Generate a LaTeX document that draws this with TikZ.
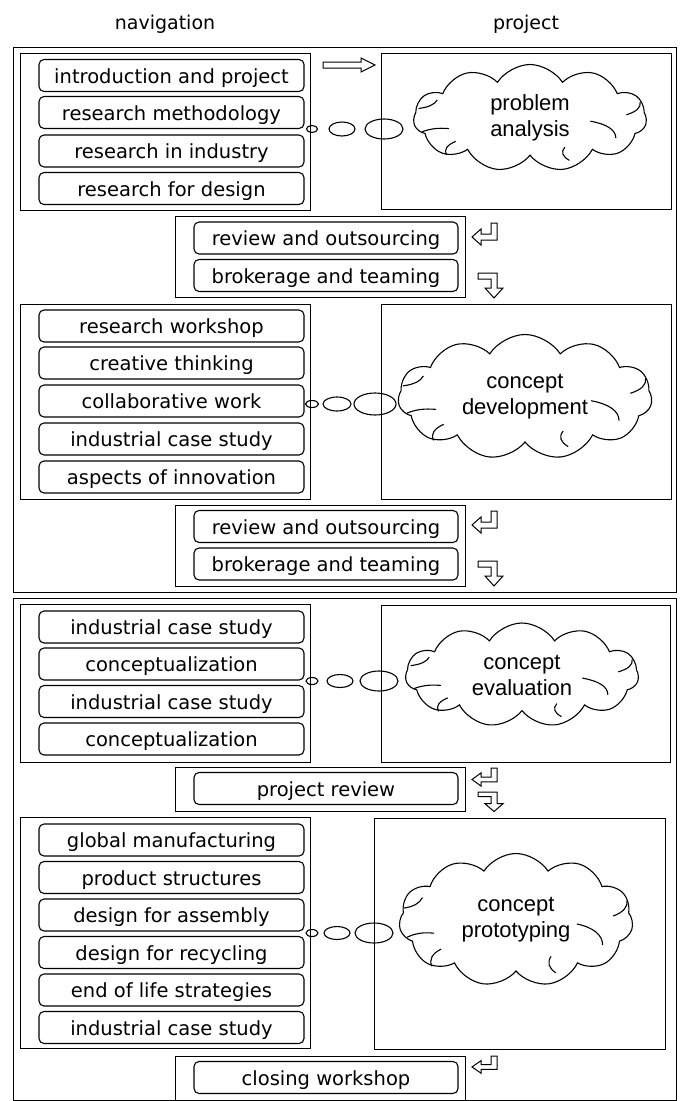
\documentclass[tikz,border=0pt]{standalone}
\usepackage{fontspec}
\setmainfont{DejaVu Sans}
\newfontfamily\cloudfont{Liberation Sans}
\usetikzlibrary{shapes.symbols,shapes.geometric}
\newcommand\cloudcurls[3]{%
  \begin{scope}[shift={(#1.center)},xscale=#2,yscale=#3,line width=1.1pt]
    \draw (-0.96,-0.18) to[bend right=30] (-0.80,-0.34);
    \draw (-0.93,0.26) to[bend left=25] (-0.70,0.20);
    \draw (-0.72,0.70) to[bend left=30] (-0.64,0.44);
    \draw (0.34,0.80) to[bend left=30] (0.30,0.55);
    \draw (0.52,0.06) to[bend left=35] (0.74,0.38);
    \draw (0.95,-0.30) to[bend left=30] (0.83,-0.06);
  \end{scope}}
\begin{document}
\begin{tikzpicture}[x=1pt,y=-1pt,
  frame/.style={draw,line width=1.4pt,anchor=north west,inner sep=0pt},
  panel/.style={draw,line width=1.2pt,anchor=north west,inner sep=0pt},
  item/.style={draw,line width=1.1pt,rounded corners=5pt,minimum width=265pt,minimum height=32pt,inner sep=0pt,text height=15pt,text depth=0pt,font=\fontsize{19.5}{23}\selectfont},
  ritem/.style={item,minimum width=264pt},
  bub/.style={draw,ellipse,line width=1.1pt,inner sep=0pt},
  thought/.style={draw,cloud,cloud puffs=11,cloud puff arc=115,line width=1.1pt,inner sep=0pt,align=center,font=\cloudfont\fontsize{22}{26}\selectfont},
  head/.style={font=\fontsize{19}{23}\selectfont},
  blockarrow/.style={draw,fill=white,line width=1pt,line join=miter},
  retarrow/.pic={\draw[blockarrow] (19,0)--(25,0)--(25,17)--(9,17)--(9,22)--(0,14)--(9,6)--(9,11)--(19,11)--cycle;},
  downarrow/.pic={\draw[blockarrow] (0,0)--(19,0)--(19,15)--(25,15)--(16,25)--(7,15)--(13,15)--(13,6)--(0,6)--cycle;}
]
\useasboundingbox (0,0) rectangle (681,1101);

% headers
\node[head] (hnav) at (165,24) {navigation};
\node[head] (hproj) at (526,24) {project};

% outer frames
\node[frame,minimum width=663pt,minimum height=545pt] (frame1) at (13,47) {};
\node[frame,minimum width=663pt,minimum height=502pt] (frame2) at (13,598) {};

% ---------- section 1
\node[panel,minimum width=290pt,minimum height=157pt] (nav1) at (20,53) {};
\node[panel,minimum width=290pt,minimum height=156pt] (proj1) at (381,53) {};
\node[item] (a1) at (171.5,75.5) {introduction and project};
\node[item] (a2) at (171.5,112.5) {research methodology};
\node[item] (a3) at (171.5,151) {research in industry};
\node[item] (a4) at (171.5,188.5) {research for design};
\node[bub,minimum width=11pt,minimum height=7pt] (b11) at (312,129) {};
\node[bub,minimum width=26pt,minimum height=14pt] (b12) at (342,129) {};
\node[bub,minimum width=38pt,minimum height=20pt] (b13) at (384,129) {};
\node[thought,aspect=2.18,minimum width=233pt,minimum height=107pt] (c1) at (530,118) {problem\\analysis};
\cloudcurls{c1}{116}{53}
\draw[blockarrow] (323,62)--(361,62)--(361,58)--(375,65)--(361,72)--(361,68)--(323,68)--cycle;

\node[panel,minimum width=290pt,minimum height=81pt] (rev1) at (175,216) {};
\node[ritem] (r11) at (326,238) {review and outsourcing};
\node[ritem] (r12) at (326,275.5) {brokerage and teaming};
\pic at (472,223) {retarrow};
\pic at (478,273) {downarrow};

% ---------- section 2
\node[panel,minimum width=290pt,minimum height=195pt] (nav2) at (20,304) {};
\node[panel,minimum width=290pt,minimum height=195pt] (proj2) at (381,304) {};
\node[item] (d1) at (171.5,326) {research workshop};
\node[item] (d2) at (171.5,363) {creative thinking};
\node[item] (d3) at (171.5,401) {collaborative work};
\node[item] (d4) at (171.5,439) {industrial case study};
\node[item] (d5) at (171.5,477) {aspects of innovation};
\node[bub,minimum width=13pt,minimum height=7pt] (b21) at (312,404) {};
\node[bub,minimum width=28pt,minimum height=14pt] (b22) at (337,404) {};
\node[bub,minimum width=42pt,minimum height=22pt] (b23) at (375,404) {};
\node[thought,aspect=2.03,minimum width=254pt,minimum height=125pt] (c2) at (525,397) {concept\\development};
\cloudcurls{c2}{127}{62}

\node[panel,minimum width=290pt,minimum height=81pt] (rev2) at (175,505) {};
\node[ritem] (r21) at (326,526.5) {review and outsourcing};
\node[ritem] (r22) at (326,564) {brokerage and teaming};
\pic at (472,511) {retarrow};
\pic at (478,561) {downarrow};

% ---------- section 3
\node[panel,minimum width=290pt,minimum height=158pt] (nav3) at (20,604) {};
\node[panel,minimum width=289pt,minimum height=157pt] (proj3) at (381,605) {};
\node[item] (e1) at (171.5,627) {industrial case study};
\node[item] (e2) at (171.5,664) {conceptualization};
\node[item] (e3) at (171.5,701.5) {industrial case study};
\node[item] (e4) at (171.5,739) {conceptualization};
\node[bub,minimum width=12pt,minimum height=7pt] (b31) at (312,681) {};
\node[bub,minimum width=26pt,minimum height=13pt] (b32) at (340,681) {};
\node[bub,minimum width=38pt,minimum height=20pt] (b33) at (379,681) {};
\node[thought,aspect=2.24,minimum width=233pt,minimum height=104pt] (c3) at (522,675) {concept\\evaluation};
\cloudcurls{c3}{116}{52}

\node[panel,minimum width=290pt,minimum height=44pt] (rev3) at (175,767) {};
\node[ritem] (r31) at (326,788.5) {project review};
\pic[yscale=0.82] at (472,768) {retarrow};
\pic[yscale=0.78] at (478,792) {downarrow};

% ---------- section 4
\node[panel,minimum width=290pt,minimum height=231pt] (nav4) at (20,817) {};
\node[panel,minimum width=291pt,minimum height=231pt] (proj4) at (374,818) {};
\node[item] (f1) at (171.5,840) {global manufacturing};
\node[item] (f2) at (171.5,877.5) {product structures};
\node[item] (f3) at (171.5,915) {design for assembly};
\node[item] (f4) at (171.5,952.5) {design for recycling};
\node[item] (f5) at (171.5,990) {end of life strategies};
\node[item] (f6) at (171.5,1027.5) {industrial case study};
\node[bub,minimum width=12pt,minimum height=7pt] (b41) at (312,933) {};
\node[bub,minimum width=26pt,minimum height=13pt] (b42) at (337,933) {};
\node[bub,minimum width=38pt,minimum height=20pt] (b43) at (374,933) {};
\node[thought,aspect=1.76,minimum width=234pt,minimum height=133pt] (c4) at (516,920) {concept\\prototyping};
\cloudcurls{c4}{117}{66}

\node[panel,minimum width=290pt,minimum height=44pt] (rev4) at (175,1056) {};
\node[ritem] (r41) at (326,1077.5) {closing workshop};
\pic[yscale=0.78] at (472,1056) {retarrow};
\end{tikzpicture}
\end{document}
